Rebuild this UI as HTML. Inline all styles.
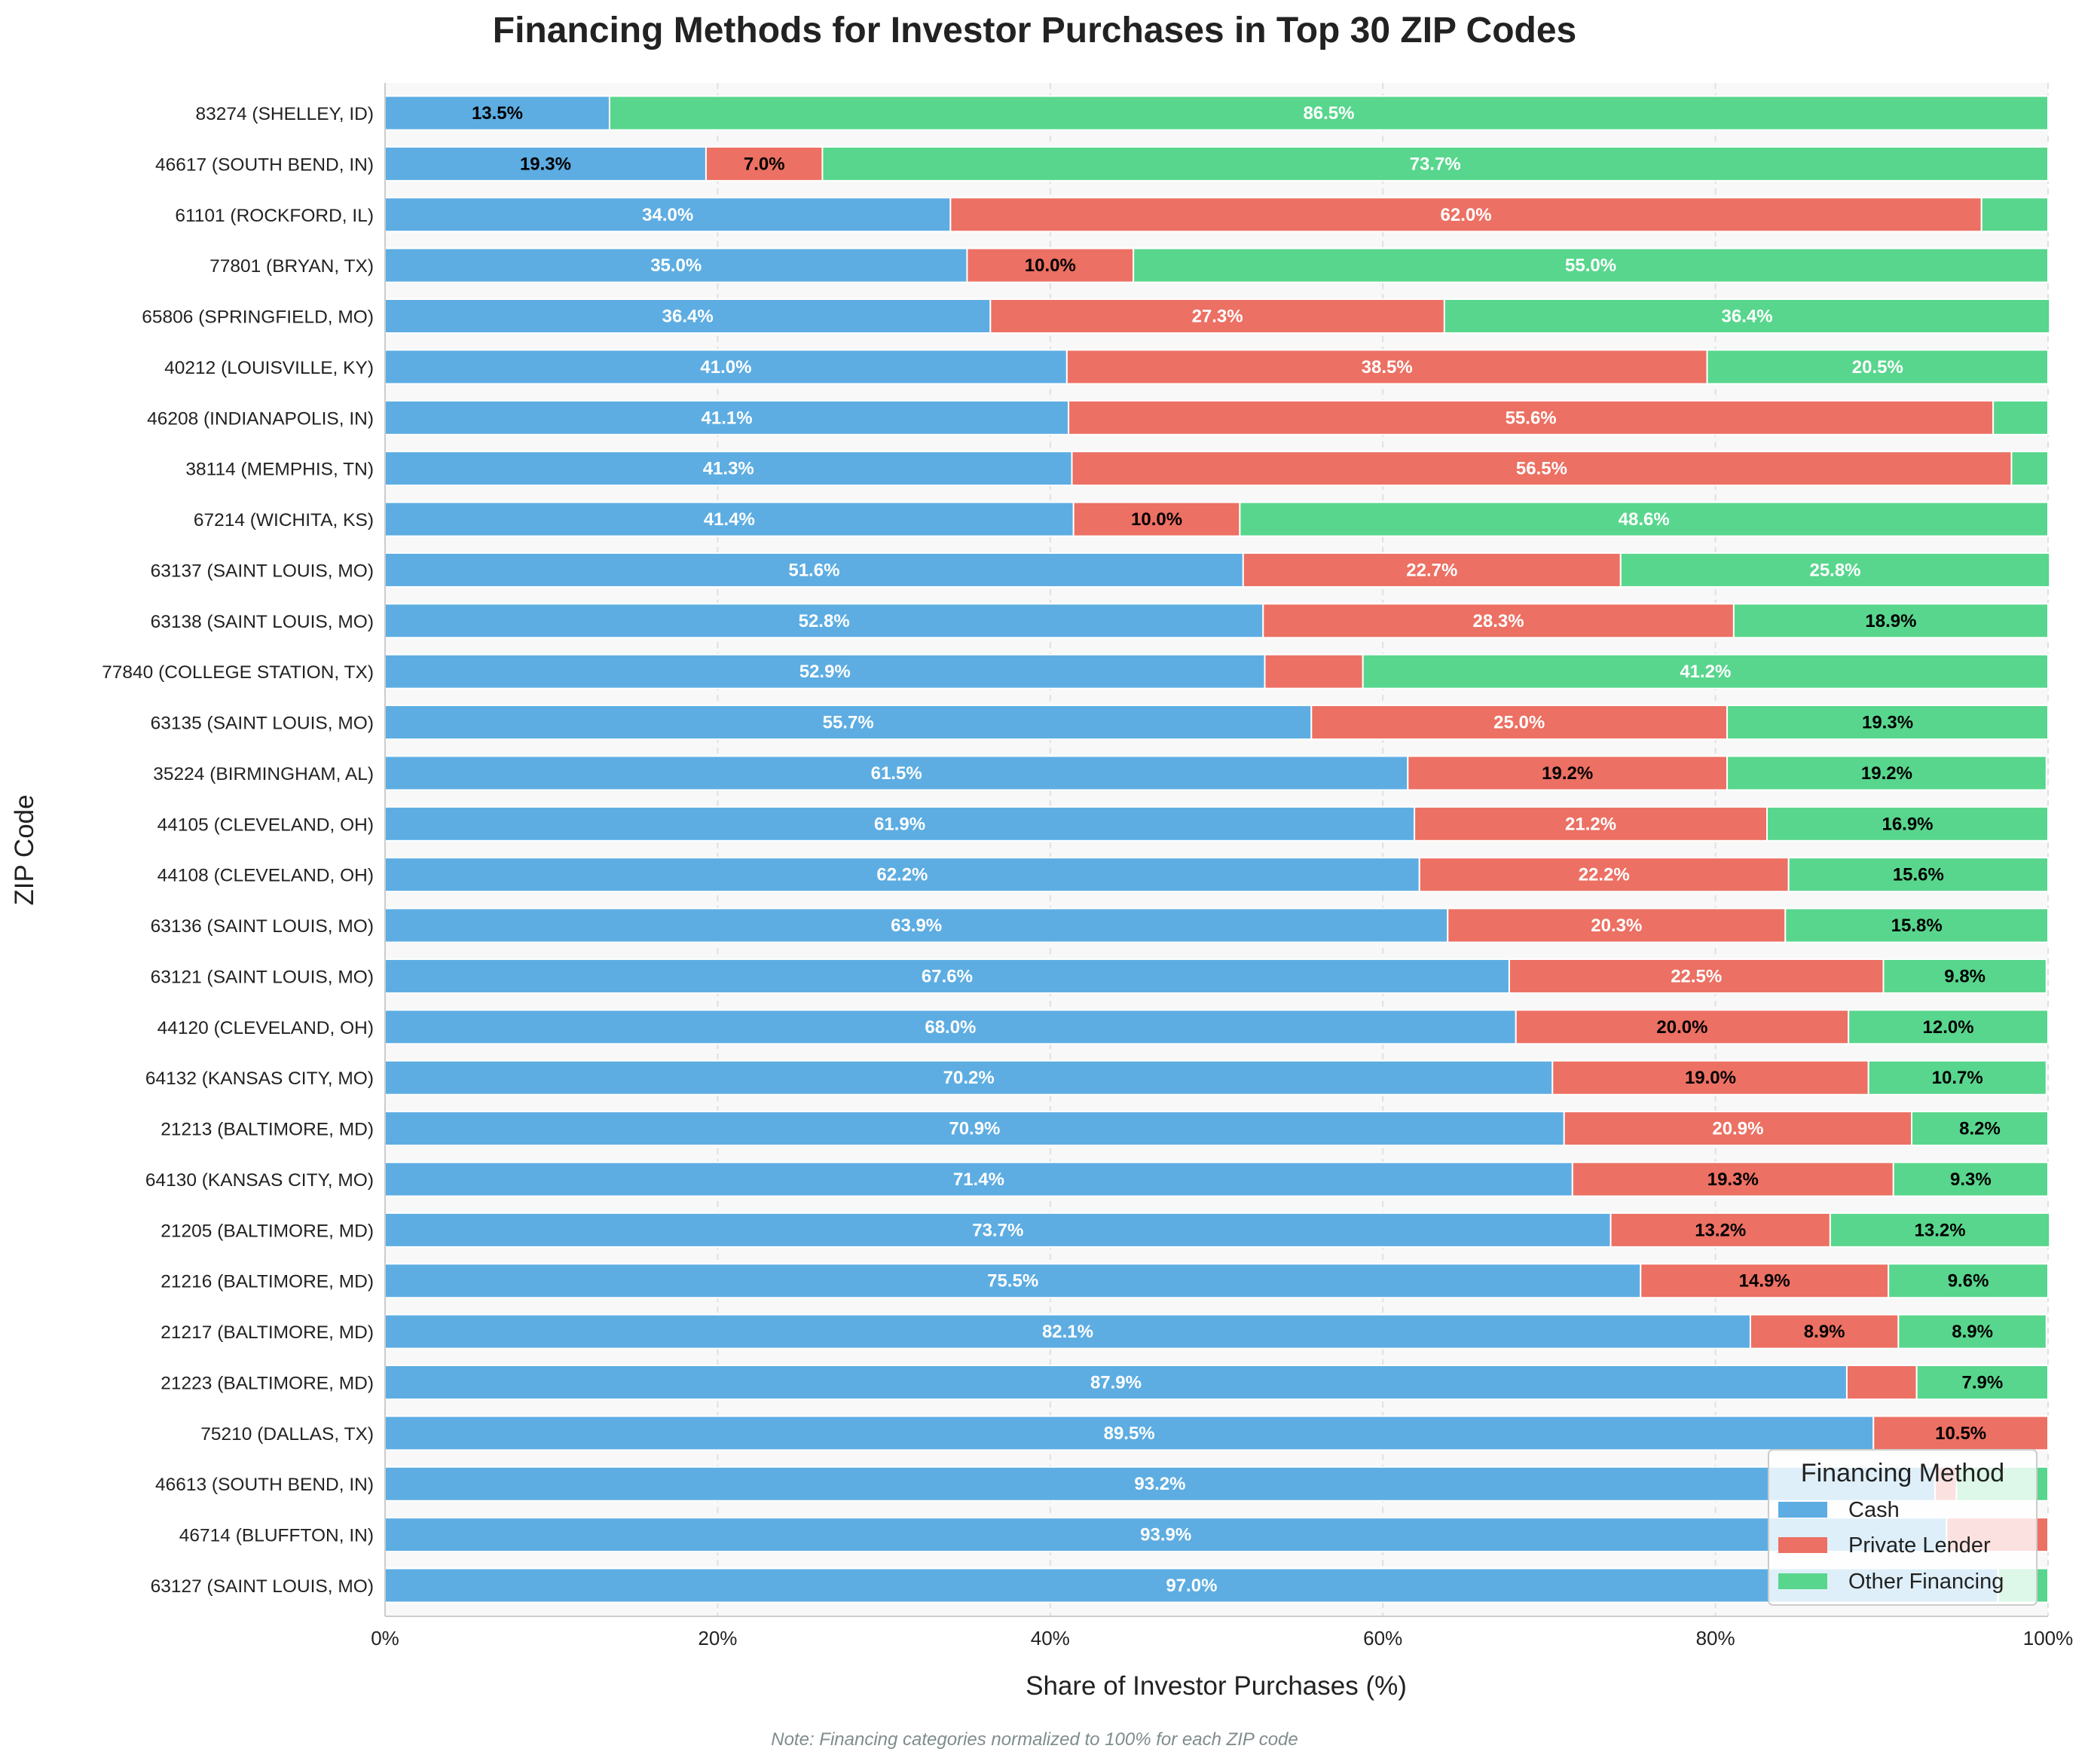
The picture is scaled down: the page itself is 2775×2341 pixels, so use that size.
<!DOCTYPE html>
<html><head><meta charset="utf-8">
<style>
html,body{margin:0;padding:0;background:#fff;}
svg{display:block;font-family:"Liberation Sans",Arial,sans-serif;}
</style></head>
<body>
<svg id="chart" width="2775" height="2341" viewBox="0 0 2775 2341" xmlns="http://www.w3.org/2000/svg">
<rect x="0" y="0" width="2775" height="2341" fill="#ffffff"/>
<text x="1373" y="56" text-anchor="middle" font-size="48" font-weight="bold" fill="#222">Financing Methods for Investor Purchases in Top 30 ZIP Codes</text>
<rect x="511" y="110" width="2207" height="2035" fill="#f8f8f8"/>
<g id="grid"></g>
<g id="bars"></g>
<line x1="511" y1="110" x2="511" y2="2145" stroke="#ccc" stroke-width="2"/>
<line x1="511" y1="2145" x2="2718" y2="2145" stroke="#ccc" stroke-width="2"/>
<g id="ylabels"></g>
<g id="xticks"></g>
<text x="1614" y="2249" text-anchor="middle" font-size="35" fill="#222">Share of Investor Purchases (%)</text>
<text transform="translate(44,1128) rotate(-90)" text-anchor="middle" font-size="35" fill="#222">ZIP Code</text>
<text x="1373" y="2316" text-anchor="middle" font-size="24" font-style="italic" fill="#7f8c8d">Note: Financing categories normalized to 100% for each ZIP code</text>
<g>
<rect x="2347" y="1924" width="356" height="206" rx="6" fill="#ffffff" fill-opacity="0.8" stroke="#ccc" stroke-width="2"/>
<text x="2525" y="1966" text-anchor="middle" font-size="34" fill="#222">Financing Method</text>
<rect x="2360" y="1993" width="65" height="21" fill="#5DADE2"/>
<text x="2453" y="2013" font-size="29" fill="#222">Cash</text>
<rect x="2360" y="2040" width="65" height="21" fill="#EC7063"/>
<text x="2453" y="2060" font-size="29" fill="#222">Private Lender</text>
<rect x="2360" y="2088" width="65" height="21" fill="#58D68D"/>
<text x="2453" y="2108" font-size="29" fill="#222">Other Financing</text>
</g>
</svg>
<script>
const zipLabels = ["83274 (SHELLEY, ID)","46617 (SOUTH BEND, IN)","61101 (ROCKFORD, IL)","77801 (BRYAN, TX)","65806 (SPRINGFIELD, MO)","40212 (LOUISVILLE, KY)","46208 (INDIANAPOLIS, IN)","38114 (MEMPHIS, TN)","67214 (WICHITA, KS)","63137 (SAINT LOUIS, MO)","63138 (SAINT LOUIS, MO)","77840 (COLLEGE STATION, TX)","63135 (SAINT LOUIS, MO)","35224 (BIRMINGHAM, AL)","44105 (CLEVELAND, OH)","44108 (CLEVELAND, OH)","63136 (SAINT LOUIS, MO)","63121 (SAINT LOUIS, MO)","44120 (CLEVELAND, OH)","64132 (KANSAS CITY, MO)","21213 (BALTIMORE, MD)","64130 (KANSAS CITY, MO)","21205 (BALTIMORE, MD)","21216 (BALTIMORE, MD)","21217 (BALTIMORE, MD)","21223 (BALTIMORE, MD)","75210 (DALLAS, TX)","46613 (SOUTH BEND, IN)","46714 (BLUFFTON, IN)","63127 (SAINT LOUIS, MO)"];
const cashValues = [13.5,19.3,34.0,35.0,36.4,41.0,41.1,41.3,41.4,51.6,52.8,52.9,55.7,61.5,61.9,62.2,63.9,67.6,68.0,70.2,70.9,71.4,73.7,75.5,82.1,87.9,89.5,93.2,93.9,97.0];
const privateValues = [0,7.0,62.0,10.0,27.3,38.5,55.6,56.5,10.0,22.7,28.3,5.9,25.0,19.2,21.2,22.2,20.3,22.5,20.0,19.0,20.9,19.3,13.2,14.9,8.9,4.2,10.5,1.3,6.1,0];
const otherValues = [86.5,73.7,4.0,55.0,36.4,20.5,3.3,2.2,48.6,25.8,18.9,41.2,19.3,19.2,16.9,15.6,15.8,9.8,12.0,10.7,8.2,9.3,13.2,9.6,8.9,7.9,0,5.5,0,3.0];
const xTicks = [0,20,40,60,80,100];
const xTickLabels = ["0%","20%","40%","60%","80%","100%"];

const NS = "http://www.w3.org/2000/svg";
const X0 = 511, X1 = 2718, Y0 = 150, STEP = (2104-150)/29, BH = 45;
function xScale(v){ return X0 + (v/100)*(X1-X0); }
function yScale(i){ return Y0 + i*STEP; }
function mk(tag, attrs, parent){ const e=document.createElementNS(NS,tag); for(const k in attrs) e.setAttribute(k,attrs[k]); parent.appendChild(e); return e; }

const grid = document.getElementById('grid');
const xt = document.getElementById('xticks');
xTicks.forEach((t,i)=>{
  const l = mk('line',{x1:xScale(t),x2:xScale(t),y1:110,y2:2145,stroke:'#e0e0e0','stroke-width':2,'stroke-dasharray':'8,6'},grid);
  
  
  const tx = mk('text',{x:xScale(t),y:2183,'text-anchor':'middle','font-size':26,fill:'#222'},xt);
  tx.textContent = xTickLabels[i];
  
  
});

const bars = document.getElementById('bars');
const yl = document.getElementById('ylabels');
const series = [
  {vals:cashValues,color:'#5DADE2',name:'cash'},
  {vals:privateValues,color:'#EC7063',name:'private-lender'},
  {vals:otherValues,color:'#58D68D',name:'other-financing'}
];
zipLabels.forEach((lab,i)=>{
  const yc = yScale(i);
  const t = mk('text',{x:496,y:yc+9,'text-anchor':'end','font-size':24.5,fill:'#222'},yl);
  t.textContent = lab;
  
  
  let acc = 0;
  series.forEach(s=>{
    const v = s.vals[i];
    if(v>0){
      const r = mk('rect',{x:xScale(acc),y:yc-BH/2,width:xScale(acc+v)-xScale(acc),height:BH,fill:s.color,stroke:'#ffffff','stroke-width':2},bars);
      
      
      if(v>=6.5){
        const lt = mk('text',{x:(xScale(acc)+xScale(acc+v))/2,y:yc+8,'text-anchor':'middle','font-size':24,'font-weight':'bold',fill:v>20?'#ffffff':'#000000'},bars);
        lt.textContent = v.toFixed(1)+'%';
        
        
      }
    }
    acc += v;
  });
});
</script>
</body></html>
